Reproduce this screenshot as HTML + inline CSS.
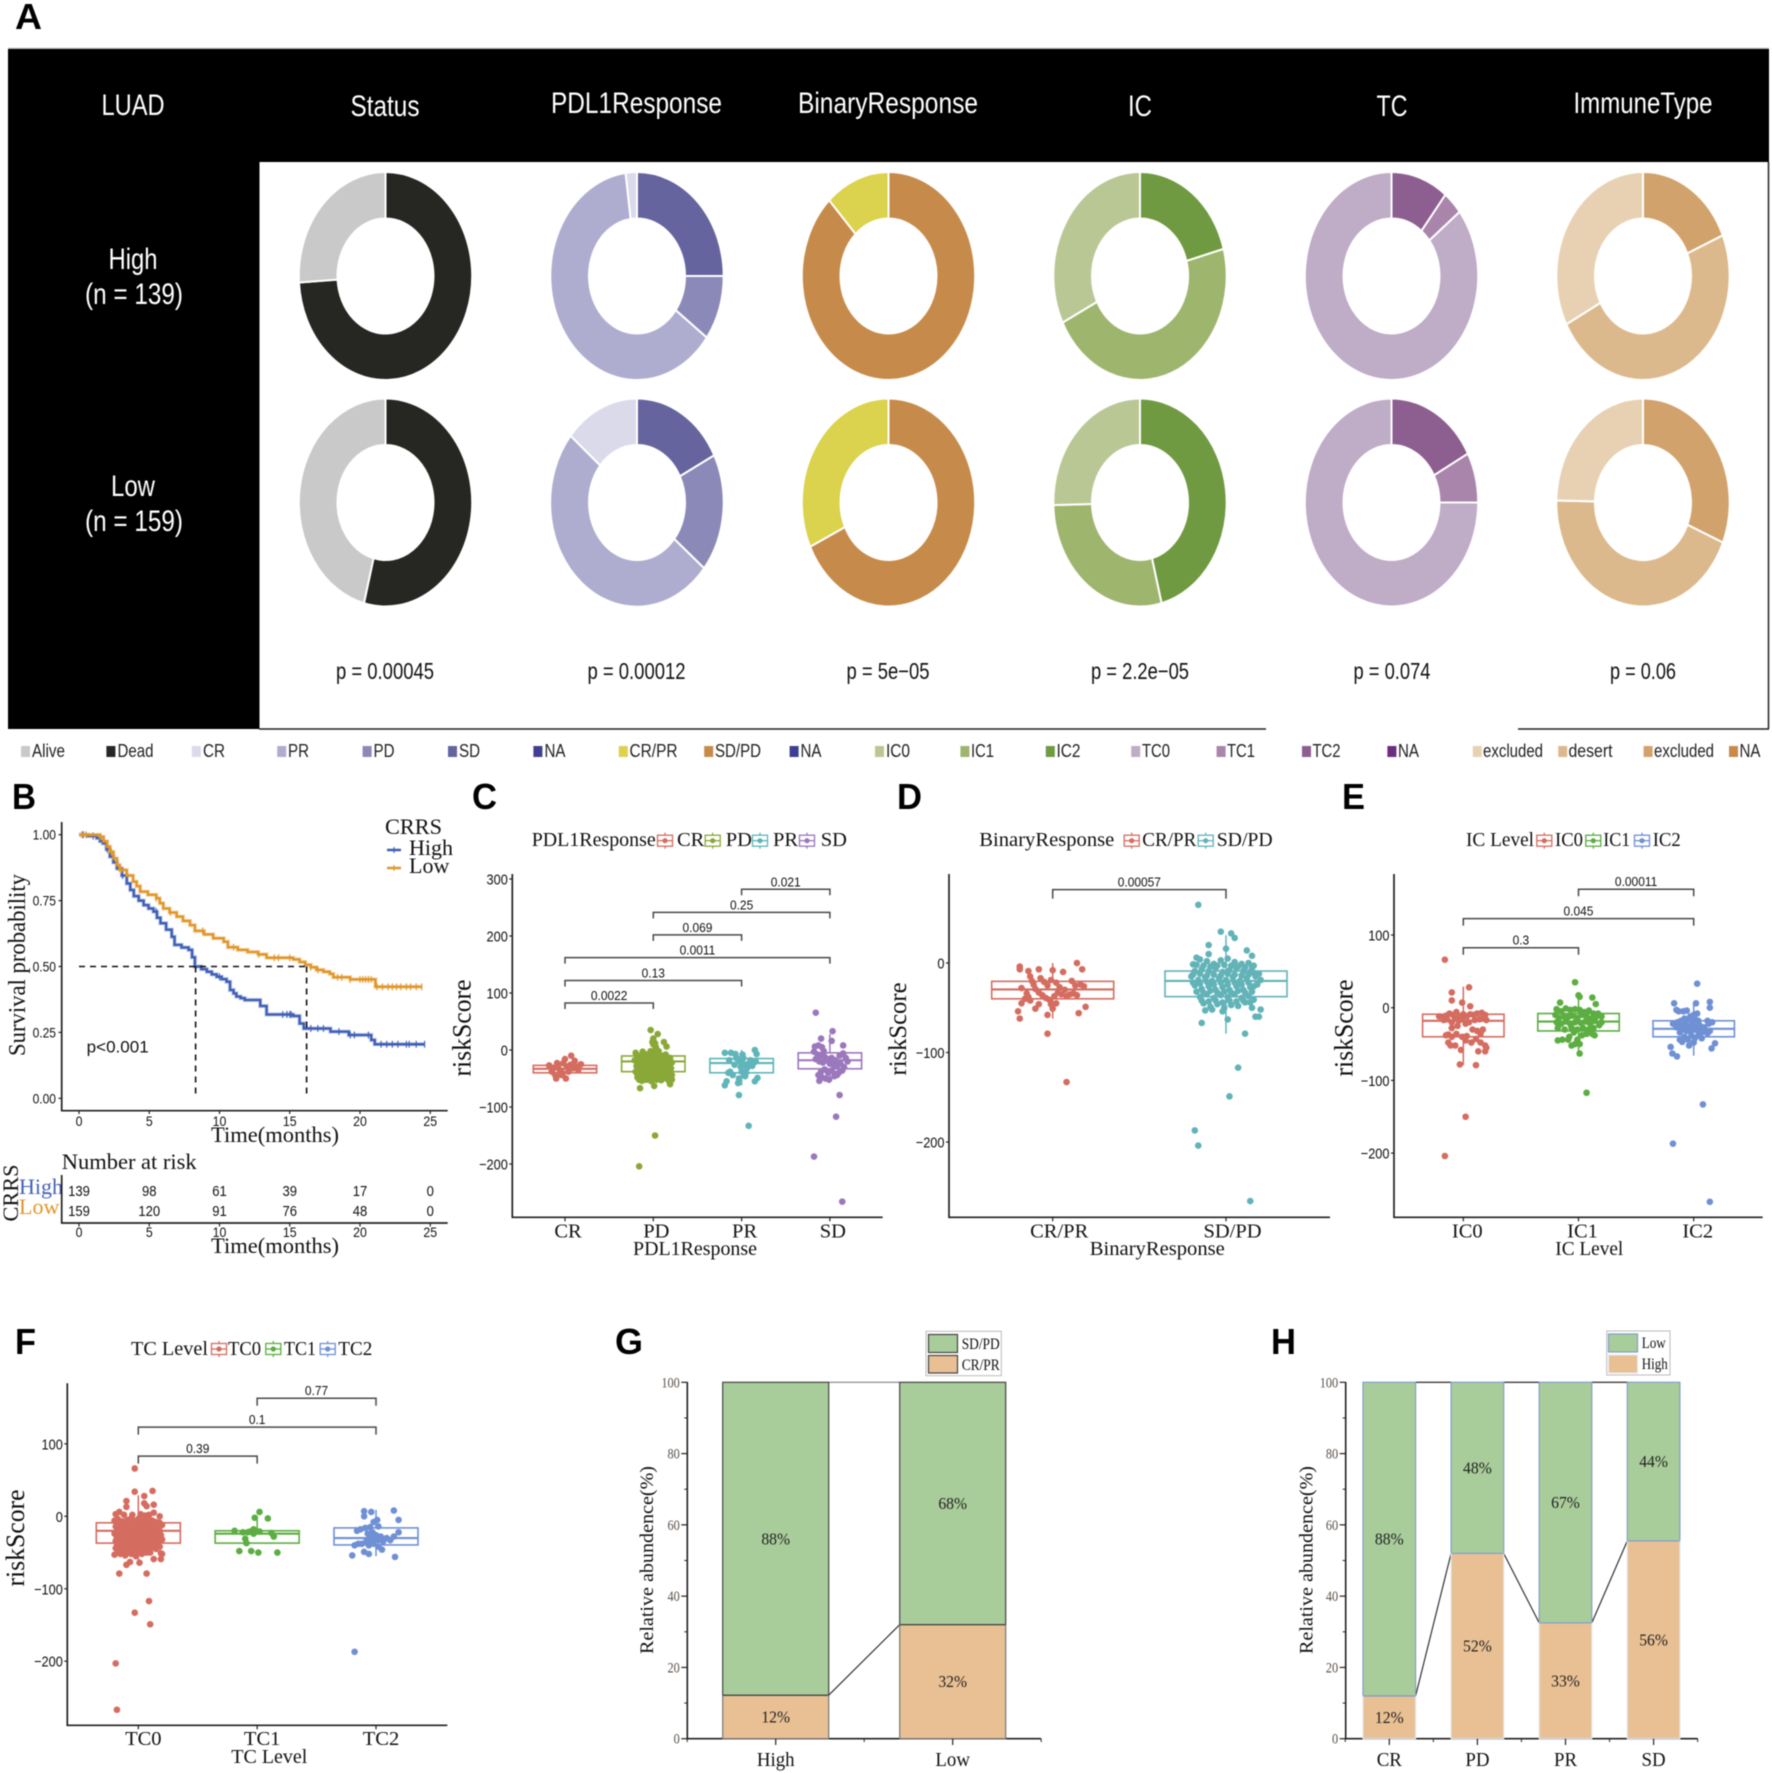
<!DOCTYPE html>
<html lang="en">
<head>
<meta charset="utf-8">
<title>LUAD risk score figure</title>
<style>
html,body{margin:0;padding:0;background:#fff}
svg{display:block;filter:blur(.45px)}
text{font-family:"Liberation Sans",sans-serif;fill:#111}
.s,.s text{font-family:"Liberation Serif",serif}
.w{fill:#fff}
.pl{font-size:36px;font-weight:bold;fill:#000}
.lg{font-size:18.5px;fill:#222}
.hd{font-size:30px;fill:#fff;text-anchor:middle}
.pv{font-size:23px;text-anchor:middle;fill:#111}
.m{text-anchor:middle}
</style>
</head>
<body>
<svg id="fig" xmlns="http://www.w3.org/2000/svg" width="1772" height="1773" viewBox="0 0 1772 1773">
<rect x="0" y="0" width="1772" height="1773" fill="#fff"/>

<text class="pl" x="15" y="29" textLength="27" lengthAdjust="spacingAndGlyphs">A</text>
<text class="pl" x="12" y="809" textLength="24" lengthAdjust="spacingAndGlyphs">B</text>
<text class="pl" x="472" y="809" textLength="25" lengthAdjust="spacingAndGlyphs">C</text>
<text class="pl" x="897" y="809" textLength="25" lengthAdjust="spacingAndGlyphs">D</text>
<text class="pl" x="1342" y="809" textLength="23" lengthAdjust="spacingAndGlyphs">E</text>
<text class="pl" x="15" y="1354" textLength="21" lengthAdjust="spacingAndGlyphs">F</text>
<text class="pl" x="615" y="1354" textLength="28" lengthAdjust="spacingAndGlyphs">G</text>
<text class="pl" x="1271" y="1354" textLength="25" lengthAdjust="spacingAndGlyphs">H</text>

<g>
<line x1="8" x2="1769" y1="48.5" y2="48.5" stroke="#b5b5b5" stroke-width="1.5"/>
<rect x="8" y="49" width="1761" height="113" fill="#000"/>
<rect x="8" y="49" width="251.5" height="680" fill="#000"/>
<line x1="259" x2="1266" y1="729" y2="729" stroke="#222" stroke-width="1.5"/>
<line x1="1518" x2="1769" y1="729" y2="729" stroke="#222" stroke-width="1.5"/>
<line x1="1768.5" x2="1768.5" y1="162" y2="729" stroke="#222" stroke-width="1.5"/>
<text class="hd" x="133" y="115" textLength="63" lengthAdjust="spacingAndGlyphs">LUAD</text>
<text class="hd" x="385" y="116" textLength="69" lengthAdjust="spacingAndGlyphs">Status</text>
<text class="hd" x="636.5" y="113" textLength="171" lengthAdjust="spacingAndGlyphs">PDL1Response</text>
<text class="hd" x="888" y="113" textLength="180" lengthAdjust="spacingAndGlyphs">BinaryResponse</text>
<text class="hd" x="1140" y="116" textLength="24" lengthAdjust="spacingAndGlyphs">IC</text>
<text class="hd" x="1392" y="116" textLength="31" lengthAdjust="spacingAndGlyphs">TC</text>
<text class="hd" x="1643" y="113" textLength="139" lengthAdjust="spacingAndGlyphs">ImmuneType</text>
<text class="hd" x="133" y="269" textLength="49" lengthAdjust="spacingAndGlyphs">High</text>
<text class="hd" x="134" y="304" textLength="98" lengthAdjust="spacingAndGlyphs">(n = 139)</text>
<text class="hd" x="133" y="496" textLength="44" lengthAdjust="spacingAndGlyphs">Low</text>
<text class="hd" x="134" y="531" textLength="98" lengthAdjust="spacingAndGlyphs">(n = 159)</text>
<text class="pv" x="385" y="679" textLength="98" lengthAdjust="spacingAndGlyphs">p = 0.00045</text>
<text class="pv" x="636.5" y="679" textLength="98" lengthAdjust="spacingAndGlyphs">p = 0.00012</text>
<text class="pv" x="888" y="679" textLength="83" lengthAdjust="spacingAndGlyphs">p = 5e−05</text>
<text class="pv" x="1140" y="679" textLength="98" lengthAdjust="spacingAndGlyphs">p = 2.2e−05</text>
<text class="pv" x="1392" y="679" textLength="77" lengthAdjust="spacingAndGlyphs">p = 0.074</text>
<text class="pv" x="1643" y="679" textLength="66" lengthAdjust="spacingAndGlyphs">p = 0.06</text>
<g id="donuts"></g>
</g>

<g>
<g><rect x="21" y="746" width="9" height="11" fill="#c9c9c9"/><text class="lg" x="32" y="757" textLength="33" lengthAdjust="spacingAndGlyphs">Alive</text></g>
<g><rect x="106.4" y="746" width="9" height="11" fill="#262622"/><text class="lg" x="117.5" y="757" textLength="36" lengthAdjust="spacingAndGlyphs">Dead</text></g>
<g><rect x="191.8" y="746" width="9" height="11" fill="#dadaeb"/><text class="lg" x="203" y="757" textLength="22" lengthAdjust="spacingAndGlyphs">CR</text></g>
<g><rect x="277.2" y="746" width="9" height="11" fill="#aeadcf"/><text class="lg" x="288" y="757" textLength="21" lengthAdjust="spacingAndGlyphs">PR</text></g>
<g><rect x="362.6" y="746" width="9" height="11" fill="#8b89b7"/><text class="lg" x="373.5" y="757" textLength="21" lengthAdjust="spacingAndGlyphs">PD</text></g>
<g><rect x="448" y="746" width="9" height="11" fill="#65649e"/><text class="lg" x="459" y="757" textLength="21" lengthAdjust="spacingAndGlyphs">SD</text></g>
<g><rect x="533.4" y="746" width="9" height="11" fill="#3f3f8f"/><text class="lg" x="544.5" y="757" textLength="21" lengthAdjust="spacingAndGlyphs">NA</text></g>
<g><rect x="618.8" y="746" width="9" height="11" fill="#dbd24d"/><text class="lg" x="629.5" y="757" textLength="48" lengthAdjust="spacingAndGlyphs">CR/PR</text></g>
<g><rect x="704.2" y="746" width="9" height="11" fill="#c68b4b"/><text class="lg" x="715" y="757" textLength="46" lengthAdjust="spacingAndGlyphs">SD/PD</text></g>
<g><rect x="789.6" y="746" width="9" height="11" fill="#3f3f8f"/><text class="lg" x="800.5" y="757" textLength="21" lengthAdjust="spacingAndGlyphs">NA</text></g>
<g><rect x="875" y="746" width="9" height="11" fill="#b9c795"/><text class="lg" x="886" y="757" textLength="24" lengthAdjust="spacingAndGlyphs">IC0</text></g>
<g><rect x="960.4" y="746" width="9" height="11" fill="#9eb56e"/><text class="lg" x="971" y="757" textLength="23" lengthAdjust="spacingAndGlyphs">IC1</text></g>
<g><rect x="1045.8" y="746" width="9" height="11" fill="#6f9a41"/><text class="lg" x="1056.5" y="757" textLength="24" lengthAdjust="spacingAndGlyphs">IC2</text></g>
<g><rect x="1131.2" y="746" width="9" height="11" fill="#bfacc6"/><text class="lg" x="1142" y="757" textLength="28" lengthAdjust="spacingAndGlyphs">TC0</text></g>
<g><rect x="1216.6" y="746" width="9" height="11" fill="#a985ab"/><text class="lg" x="1227" y="757" textLength="28" lengthAdjust="spacingAndGlyphs">TC1</text></g>
<g><rect x="1302" y="746" width="9" height="11" fill="#8d5e90"/><text class="lg" x="1312.5" y="757" textLength="28" lengthAdjust="spacingAndGlyphs">TC2</text></g>
<g><rect x="1387.4" y="746" width="9" height="11" fill="#6b2d7f"/><text class="lg" x="1398" y="757" textLength="21" lengthAdjust="spacingAndGlyphs">NA</text></g>
<g><rect x="1472.8" y="746" width="9" height="11" fill="#e8d1b3"/><text class="lg" x="1483" y="757" textLength="60" lengthAdjust="spacingAndGlyphs">excluded</text></g>
<g><rect x="1558.2" y="746" width="9" height="11" fill="#dcb98c"/><text class="lg" x="1568.5" y="757" textLength="44" lengthAdjust="spacingAndGlyphs">desert</text></g>
<g><rect x="1643.6" y="746" width="9" height="11" fill="#d1a26b"/><text class="lg" x="1654" y="757" textLength="60" lengthAdjust="spacingAndGlyphs">excluded</text></g>
<g><rect x="1729" y="746" width="9" height="11" fill="#c68b4b"/><text class="lg" x="1739.5" y="757" textLength="21" lengthAdjust="spacingAndGlyphs">NA</text></g>
</g>

<g class="s">
<text class="m" transform="translate(25,965) rotate(-90)" font-size="24" textLength="182" lengthAdjust="spacingAndGlyphs">Survival probability</text>
<text class="m" x="275" y="1142" font-size="22.5" textLength="128" lengthAdjust="spacingAndGlyphs">Time(months)</text>
<text x="385" y="834" font-size="22" textLength="57" lengthAdjust="spacingAndGlyphs">CRRS</text>
<text x="409" y="855" font-size="22">High</text>
<text x="409" y="873" font-size="22">Low</text>
<text x="61.7" y="1169" font-size="22.5" textLength="135" lengthAdjust="spacingAndGlyphs">Number at risk</text>
<text class="m" transform="translate(18,1193) rotate(-90)" font-size="22" textLength="57" lengthAdjust="spacingAndGlyphs">CRRS</text>
<text x="19" y="1194" font-size="22" style="fill:#4463b8">High</text>
<text x="19" y="1214" font-size="22" style="fill:#e0962a">Low</text>
<text class="m" x="275" y="1253" font-size="22.5" textLength="128" lengthAdjust="spacingAndGlyphs">Time(months)</text>
</g>
<text x="86.7" y="1052.7" font-size="17" textLength="62" lengthAdjust="spacingAndGlyphs">p&lt;0.001</text>

<g class="s" font-size="20.5">
<text x="531.7" y="846" textLength="124" lengthAdjust="spacingAndGlyphs">PDL1Response</text>
<text x="677" y="846">CR</text>
<text x="725.7" y="846">PD</text>
<text x="773" y="846">PR</text>
<text x="820.7" y="846">SD</text>
<text class="m" x="695" y="1255" textLength="124" lengthAdjust="spacingAndGlyphs">PDL1Response</text>
<text class="m" transform="translate(470.7,1028) rotate(-90)" font-size="26" textLength="97" lengthAdjust="spacingAndGlyphs">riskScore</text>
</g>
<g class="s" font-size="20.5">
<text x="979.3" y="846" textLength="135" lengthAdjust="spacingAndGlyphs">BinaryResponse</text>
<text x="1142.3" y="846" textLength="54" lengthAdjust="spacingAndGlyphs">CR/PR</text>
<text x="1216.7" y="846" textLength="56" lengthAdjust="spacingAndGlyphs">SD/PD</text>
<text class="m" x="1157.3" y="1255" textLength="135" lengthAdjust="spacingAndGlyphs">BinaryResponse</text>
<text class="m" transform="translate(906,1029) rotate(-90)" font-size="25" textLength="93" lengthAdjust="spacingAndGlyphs">riskScore</text>
</g>
<g class="s" font-size="20.5">
<text x="1466" y="846" textLength="68" lengthAdjust="spacingAndGlyphs">IC Level</text>
<text x="1555" y="846" textLength="28" lengthAdjust="spacingAndGlyphs">IC0</text>
<text x="1603.3" y="846" textLength="27" lengthAdjust="spacingAndGlyphs">IC1</text>
<text x="1652.7" y="846" textLength="28" lengthAdjust="spacingAndGlyphs">IC2</text>
<text class="m" x="1589.3" y="1255" textLength="68" lengthAdjust="spacingAndGlyphs">IC Level</text>
<text class="m" transform="translate(1352.7,1028) rotate(-90)" font-size="26" textLength="97" lengthAdjust="spacingAndGlyphs">riskScore</text>
</g>
<g class="s" font-size="20.5">
<text x="131" y="1355" textLength="77" lengthAdjust="spacingAndGlyphs">TC Level</text>
<text x="228" y="1355" textLength="33" lengthAdjust="spacingAndGlyphs">TC0</text>
<text x="284" y="1355" textLength="32" lengthAdjust="spacingAndGlyphs">TC1</text>
<text x="338.3" y="1355" textLength="34" lengthAdjust="spacingAndGlyphs">TC2</text>
<text class="m" x="269.3" y="1763" textLength="76" lengthAdjust="spacingAndGlyphs">TC Level</text>
<text class="m" transform="translate(24,1538) rotate(-90)" font-size="26" textLength="97" lengthAdjust="spacingAndGlyphs">riskScore</text>
</g>

<g class="s">
<text class="m" transform="translate(653,1560) rotate(-90)" font-size="19" textLength="188" lengthAdjust="spacingAndGlyphs">Relative abundence(%)</text>
<rect x="926" y="1331.3" width="75.3" height="44.4" fill="#fff" stroke="#bbb" stroke-width="1"/>
<rect x="928.5" y="1334.5" width="29" height="18" fill="#a9cd9a" stroke="#444" stroke-width="1.2"/>
<rect x="928.5" y="1355.5" width="29" height="17.5" fill="#e9c093" stroke="#444" stroke-width="1.2"/>
<text x="961.7" y="1349" font-size="16" textLength="38" lengthAdjust="spacingAndGlyphs">SD/PD</text>
<text x="961.7" y="1370" font-size="16" textLength="38" lengthAdjust="spacingAndGlyphs">CR/PR</text>
</g>
<g class="s">
<text class="m" transform="translate(1312.3,1560) rotate(-90)" font-size="19" textLength="188" lengthAdjust="spacingAndGlyphs">Relative abundence(%)</text>
<rect x="1606.7" y="1331" width="63.3" height="44" fill="#fff" stroke="#bbb" stroke-width="1"/>
<rect x="1608.5" y="1334" width="29" height="18" fill="#a9cd9a" stroke="#7f9fc8" stroke-width="1.2"/>
<rect x="1608.5" y="1355" width="29" height="18" fill="#e9c093" stroke="#e4e9f0" stroke-width="1"/>
<text x="1641.7" y="1348" font-size="16" textLength="24" lengthAdjust="spacingAndGlyphs">Low</text>
<text x="1641.7" y="1369" font-size="16" textLength="26" lengthAdjust="spacingAndGlyphs">High</text>
</g>
<g id="plots"></g>
</svg>

<script>
/* ---------- Panel A: donut data (fraction of each group) ---------- */
const statusHigh=[0.74,0.26];
const statusLow=[0.54,0.46];
const pdl1High=[0.25,0.101,0.628,0.021];
const pdl1Low=[0.175,0.184,0.502,0.139];
const binaryHigh=[0.88,0.12];
const binaryLow=[0.68,0.32];
const icHigh=[0.208,0.468,0.324];
const icLow=[0.46,0.286,0.254];
const tcHigh=[0.107,0.037,0.856];
const tcLow=[0.172,0.078,0.75];
const immuneHigh=[0.186,0.487,0.327];
const immuneLow=[0.313,0.44,0.247];

/* ---------- Panel B: Kaplan-Meier data ---------- */
const kmXTicks=[0,5,10,15,20,25];
const kmYTicks=[0,0.25,0.5,0.75,1];
const kmYLabels=['0.00','0.25','0.50','0.75','1.00'];
const highTime=[0,.6,1.26,1.5,1.7,1.95,2.2,2.45,2.7,3.05,3.4,3.65,3.9,4.25,4.6,4.95,5.3,5.55,5.8,6.2,6.6,6.8,7.3,7.8,8.05,8.25,8.7,9.1,9.45,9.8,10.15,10.5,10.75,11,11.2,11.5,11.8,12.9,13.35,15.25,15.7,16,17.9,19.2,20.8,21.05,24.6];
const highSurv=[1,.995,.987,.975,.967,.945,.917,.895,.872,.845,.815,.79,.767,.75,.733,.72,.708,.685,.664,.64,.613,.582,.572,.563,.535,.5,.49,.48,.47,.461,.452,.442,.411,.398,.386,.38,.373,.35,.318,.312,.284,.265,.253,.24,.221,.205,.205];
const lowTime=[0,1.5,1.75,2,2.2,2.45,2.7,2.9,3.4,3.85,4.1,4.35,4.9,5.5,5.75,6,6.45,6.95,7.4,7.9,8.25,8.9,9.55,10.3,10.6,11.3,12,12.75,13.35,15.25,15.7,16.1,16.5,16.9,17.4,17.85,18.1,19.3,21.1,24.4];
const lowSurv=[1,.992,.975,.955,.935,.91,.885,.866,.845,.822,.805,.784,.772,.759,.74,.72,.705,.689,.673,.657,.635,.622,.607,.594,.573,.563,.555,.546,.533,.527,.517,.506,.497,.487,.48,.472,.459,.451,.423,.423];
const highCensor=[0.3,1,2,3.1,5.5,10,14.5,14.8,15,15.1,16.5,17,17.4,18.5,19.3,19.6,20.6,21.5,21.9,22.3,22.7,23.3,23.5,24,24.6];
const lowCensor=[0.2,0.5,1.5,2.3,3,5.5,6.5,8.8,11,12.8,13.9,14.2,15,16.5,17,18.4,18.7,19.3,20,20.2,20.4,20.6,20.8,21.2,21.6,22,22.3,22.6,22.9,23.3,23.6,24,24.4];
const medianHigh=8.3;
const medianLow=16.2;
const riskTimes=[0,5,10,15,20,25];
const riskHigh=[139,98,61,39,17,0];
const riskLow=[159,120,91,76,48,0];

/* ---------- Panel C: riskScore by PDL1Response ---------- */
const cCats=['CR','PD','PR','SD'];
const cTicks=[300,200,100,0,-100,-200];
const cQ1=[-40,-38,-40,-33];
const cMedian=[-33,-20,-23,-18];
const cQ3=[-27,-10.5,-15,-5];
const cWhiskLow=[-50,-65,-62,-55];
const cWhiskHigh=[-10,22,0,28];
const cBracketFrom=[0,0,0,1,1,2];
const cBracketTo=[1,2,3,2,3,3];
const cBracketValue=[82.5,122,162,202,241.5,282];
const cBracketLabels=['0.0022','0.13','0.0011','0.069','0.25','0.021'];
/* each point: [jitter in category units, riskScore] */
const cPointsCR=[[.07,-10],[-.09,-23],[-.18,-27],[0,-16],[.11,-19],[.18,-25],[-.1,-50],[.01,-50],[-.15,-38],[-.06,-35],[.02,-29],[.09,-32],[.15,-35],[-.04,-44],[.04,-38],[-.13,-32],[-.08,-29],[-.02,-23],[.06,-26],[-.11,-44],[.12,-28],[-.03,-40]];
const cPointsPD=[[.02,-150],[-.16,-204],[-.03,35],[.05,28],[.12,14],[.15,6],[-.15,-67],[.01,-63],[.19,-60],[.21,-52],[0,20],[0,10],[-.2,-5],[-.17,-12],[-.12,-3],[-.08,-8],[-.03,-2],[.02,0],[.06,-6],[.1,-10],[.14,-8],[.19,-14],[.21,-22],[-.21,-18],[-.19,-28],[-.15,-20],[-.11,-15],[-.07,-22],[-.02,-12],[.03,-15],[.07,-20],[.12,-18],[.17,-26],[.2,-32],[-.2,-38],[-.16,-33],[-.12,-28],[-.08,-35],[-.04,-26],[.01,-30],[.05,-27],[.09,-33],[.13,-29],[.16,-40],[.21,-44],[-.18,-48],[-.14,-42],[-.1,-46],[-.06,-40],[-.01,-44],[.03,-38],[.07,-45],[.11,-41],[.15,-50],[-.13,-54],[-.07,-52],[-.02,-55],[.04,-52],[.09,-53],[.18,-55],[-.05,-14],[0,-20],[.04,-22],[-.1,-24],[.09,-24],[-.14,-10],[.01,-37],[-.04,-34],[-.18,-10],[-.13,-15],[-.09,-18],[-.05,-8],[-.01,-6],[.04,-8],[.08,-13],[.12,-12],[.16,-17],[-.17,-24],[-.13,-24],[-.09,-28],[-.06,-30],[-.01,-26],[.03,-24],[.07,-30],[.11,-27],[.15,-32],[.19,-38],[-.18,-42],[-.14,-35],[-.1,-38],[-.05,-46],[0,-50],[.05,-34],[.09,-46],[.13,-36],[.17,-47],[-.16,-52],[-.1,-52],[-.04,-50],[.07,-50],[.02,-10],[-.02,-34],[.04,-44],[0,-3],[.03,5],[-.01,14],[.02,12],[.06,-2]];
const cPointsPR=[[-.03,-79],[.08,-133],[-.19,-5],[-.07,-7],[.15,0],[.17,-7],[-.17,-55],[-.19,-62],[-.13,-38],[-.04,-58],[.15,-55],[.18,-49],[-.03,-50],[-.12,-5],[-.06,-14],[.01,-8],[-.02,-20],[.03,-25],[.1,-18],[.13,-24],[.06,-32],[-.08,-26],[-.15,-40],[0,-38],[.05,-40],[-.1,-44],[.12,-28],[-.01,-30],[.08,-24],[-.04,-16],[.02,-14],[-.14,-18],[.16,-20],[.04,-46]];
const cPointsSD=[[-.16,65.5],[.03,33],[-.1,20],[.02,16],[.15,8],[.11,-79],[.07,-117],[-.18,-187],[.14,-266],[-.17,6],[-.13,8],[-.09,5],[-.07,-2],[-.18,-3],[-.14,-8],[-.1,-10],[-.06,-12],[-.02,-16],[.02,-14],[.06,-18],[.11,-10],[.15,-6],[.18,-14],[.2,-20],[-.16,-16],[-.12,-20],[-.08,-22],[-.04,-18],[0,-24],[.04,-26],[.08,-28],[.12,-24],[.16,-30],[-.13,-44],[-.1,-38],[-.06,-34],[-.02,-40],[.02,-36],[.06,-42],[.1,-40],[.14,-36],[-.12,-54],[-.05,-50],[-.01,-52],[.05,-46],[.08,-44],[-.09,-48]];

/* ---------- Panel D: riskScore by BinaryResponse ---------- */
const dCats=['CR/PR','SD/PD'];
const dTicks=[0,-100,-200];
const dQ1=[-40,-37.6];
const dMedian=[-29.5,-20];
const dQ3=[-20.5,-9];
const dWhiskLow=[-62,-79];
const dWhiskHigh=[0,31];
const dBracketFrom=[0];
const dBracketTo=[1];
const dBracketValue=[82];
const dBracketLabels=['0.00057'];
const dPointsCRPR=[[.08,-133],[-.03,-79],[.14,0],[.17,-7],[-.19,-4],[-.19,-7],[-.14,-9],[-.08,-7],[0,-8],[.06,-10],[-.2,-54],[-.19,-62],[-.03,-58],[.15,-56],[.19,-49],[-.1,-51],[0,-51],[-.08,-46],[-.18,-45],[-.13,-15],[-.12,-20],[-.11,-24],[-.07,-17],[-.05,-21],[-.03,-25],[-.01,-19],[.02,-22],[.04,-27],[.07,-30],[.11,-20],[.13,-25],[.16,-24],[.18,-26],[-.18,-28],[-.15,-34],[-.14,-38],[-.13,-42],[-.1,-29],[-.08,-33],[-.06,-36],[-.04,-39],[-.02,-41],[.01,-37],[.03,-33],[.05,-35],[.08,-37],[.1,-35],[.12,-34],[.14,-36],[-.01,-46],[-.16,-40],[.02,-45]];
const dPointsSDPD=[[-.16,65],[-.03,35],[.03,33],[.05,28],[-.1,20],[.12,14],[-.1,10],[0,16],[.15,8],[-.17,6],[-.19,-1.5],[.11,-79],[-.14,-67],[.07,-117],[.02,-149],[-.18,-187],[-.16,-204],[.14,-266],[.17,-60],[.19,-60],[.2,-52],[.01,-63],[-.15,4],[-.11,2],[-.07,-1],[-.03,3],[.01,5],[.05,1],[.09,-1],[.13,0],[.16,-3],[-.18,-9],[-.14,-7],[-.1,-9],[-.06,-6],[-.02,-10],[.02,-8],[.06,-6],[.1,-9],[.14,-10],[.19,-12],[-.2,-15],[-.16,-19],[-.12,-16],[-.08,-20],[-.04,-17],[0,-19],[.04,-16],[.08,-20],[.12,-17],[.17,-15],[.2,-19],[-.18,-25],[-.14,-29],[-.1,-26],[-.06,-30],[-.02,-27],[.02,-30],[.06,-26],[.1,-30],[.14,-27],[.18,-24],[-.15,-38],[-.11,-35],[-.07,-39],[-.03,-36],[.01,-38],[.05,-35],[.09,-39],[.13,-37],[.16,-41],[-.13,-45],[-.09,-49],[-.05,-46],[-.01,-50],[.03,-47],[.07,-48],[.11,-44],[.15,-50],[-.12,-53],[-.02,-54],[-.08,-52],[-.17,-2],[-.13,-3],[-.09,-4],[-.05,-3],[-.01,-2],[.03,-3],[.07,-4],[.11,-5],[.15,-5],[-.19,-13],[-.15,-12],[-.11,-14],[-.07,-13],[-.03,-14],[.01,-12],[.05,-13],[.09,-14],[.13,-13],[.16,-11],[-.19,-22],[-.15,-23],[-.11,-21],[-.07,-24],[-.03,-22],[.01,-24],[.05,-22],[.09,-24],[.13,-22],[.16,-26],[-.17,-32],[-.13,-33],[-.09,-31],[-.05,-33],[-.01,-32],[.03,-33],[.07,-31],[.11,-33],[.15,-32],[-.14,-42],[-.1,-43],[-.06,-42],[-.02,-44],[.02,-42],[.06,-43],[.1,-42],[.14,-44]];

/* ---------- Panel E: riskScore by IC level ---------- */
const eCats=['IC0','IC1','IC2'];
const eTicks=[100,0,-100,-200];
const eQ1=[-40,-32,-40];
const eMedian=[-18,-19,-29];
const eQ3=[-9,-8,-18];
const eWhiskLow=[-79,-63,-66];
const eWhiskHigh=[29,20,6];
const eBracketFrom=[0,0,1];
const eBracketTo=[1,2,2];
const eBracketValue=[82.5,122.5,163];
const eBracketLabels=['0.3','0.045','0.00011'];
const ePointsIC0=[[-.16,66],[.05,28],[-.16,-204],[.02,-150],[-.03,-78],[.11,-79],[-.1,21],[-.1,10],[-.01,7],[.06,2],[-.21,-12],[-.18,-13],[-.15,-11],[-.12,-8],[-.09,-10],[-.06,-6],[-.03,-12],[0,-9],[.03,-12],[.06,-9],[.09,-10],[.12,-8],[.16,-7],[.19,-10],[.2,-17],[-.17,-17],[-.14,-16],[-.1,-20],[-.07,-15],[-.04,-18],[-.01,-16],[.02,-22],[.05,-20],[.1,-17],[.14,-16],[.17,-14],[-.1,-28],[-.05,-25],[-.15,-38],[-.13,-37],[-.1,-40],[-.06,-36],[-.01,-40],[.03,-39],[.08,-30],[.12,-32],[.15,-36],[.17,-30],[-.13,-48],[-.11,-52],[-.07,-52],[-.02,-58],[.02,-45],[.07,-48],[.11,-43],[.15,-48],[.19,-52],[.13,-60],[.19,-60],[.2,-55]];
const ePointsIC1=[[-.03,35],[.07,-117],[.01,-63],[-.16,7],[0,17],[.01,15],[.12,14],[.15,5],[-.19,-2],[-.15,-5],[-.11,-1],[-.07,-3],[-.03,-2],[.01,-3],[.05,-6],[.09,-4],[.13,-8],[.17,-8],[.2,-12],[-.2,-10],[-.17,-14],[-.13,-12],[-.09,-13],[-.05,-11],[-.01,-14],[.03,-10],[.07,-12],[.11,-15],[.15,-13],[.2,-20],[-.19,-20],[-.15,-22],[-.11,-19],[-.07,-23],[-.03,-20],[.02,-21],[.06,-19],[.1,-22],[.14,-18],[.18,-24],[-.18,-28],[-.12,-30],[-.06,-28],[-.01,-30],[.04,-28],[.09,-30],[.13,-28],[-.18,-45],[-.14,-44],[-.08,-40],[-.04,-34],[-.01,-44],[.03,-38],[.07,-36],[.12,-36],[-.06,-52],[-.03,-50],[.01,-50],[-.09,-44],[.14,-38]];
const ePointsIC2=[[.03,33],[.08,-133],[-.18,-187],[.14,-267],[-.17,6],[.02,6],[.14,8],[.14,0],[-.2,-54],[-.185,-63],[-.145,-67],[.185,-49],[.155,-56],[-.15,-3],[-.13,-5],[-.09,-5],[-.06,-4],[-.03,-12],[0,-10],[.03,-8],[-.18,-22],[-.14,-20],[-.11,-18],[-.08,-15],[-.05,-16],[-.02,-14],[.01,-16],[.04,-18],[.12,-18],[.16,-20],[-.15,-27],[-.11,-25],[-.07,-23],[-.04,-25],[-.01,-22],[.02,-26],[.05,-24],[.09,-27],[.13,-22],[-.12,-34],[-.09,-30],[-.06,-32],[-.03,-33],[0,-30],[.03,-31],[.06,-34],[.09,-33],[.12,-35],[.14,-32],[-.12,-44],[-.08,-40],[-.05,-44],[-.02,-38],[.01,-42],[.04,-38],[.07,-42],[-.1,-47],[-.04,-52],[0,-48]];

/* ---------- Panel F: riskScore by TC level ---------- */
const fCats=['TC0','TC1','TC2'];
const fTicks=[100,0,-100,-200];
const fQ1=[-37,-37,-39.5];
const fMedian=[-20,-24,-30];
const fQ3=[-9,-20,-16];
const fWhiskLow=[-65,-37,-55];
const fWhiskHigh=[29,0,9];
const fBracketFrom=[0,0,1];
const fBracketTo=[1,2,2];
const fBracketValue=[83,123,163];
const fBracketLabels=['0.39','0.1','0.77'];
const fPointsTC0=[[-.03,66],[-.03,34],[.05,28],[.12,35],[-.1,21],[-.1,13],[.13,16],[.05,18],[.07,14],[-.16,-79],[.07,-79],[.09,-117],[-.03,-133],[.1,-149],[-.19,-203],[-.18,-267],[-.1,-67],[-.07,-63],[.01,-64],[.13,-59],[.19,-59],[.2,-52],[-.19,3],[-.16,6],[-.12,2],[.06,1],[.13,5],[.18,0],[-.2,-6],[-.17,-4],[-.13,-7],[-.09,-5],[-.06,-3],[-.03,-6],[0,-4],[.03,-7],[.06,-5],[.09,-3],[.12,-6],[.15,-8],[.18,-9],[-.19,-14],[-.16,-16],[-.13,-13],[-.1,-15],[-.07,-14],[-.04,-16],[-.01,-13],[.02,-15],[.05,-14],[.08,-16],[.11,-13],[.14,-15],[.17,-14],[.2,-12],[-.2,-24],[-.17,-26],[-.14,-23],[-.11,-25],[-.08,-24],[-.05,-26],[-.02,-23],[.01,-25],[.04,-24],[.07,-26],[.1,-23],[.13,-25],[.16,-24],[.19,-26],[-.19,-34],[-.16,-36],[-.13,-33],[-.1,-35],[-.07,-34],[-.04,-36],[-.01,-33],[.02,-35],[.05,-34],[.08,-36],[.11,-33],[.14,-35],[.17,-34],[.2,-32],[-.19,-44],[-.16,-46],[-.13,-43],[-.1,-45],[-.07,-44],[-.04,-46],[-.01,-43],[.02,-45],[.05,-44],[.08,-46],[.12,-43],[.15,-45],[.18,-42],[-.2,-53],[-.15,-52],[-.11,-54],[-.06,-52],[-.02,-55],[.03,-52],[.07,-50],[.19,-51],[-.18,-10],[-.14,-9],[-.1,-10],[-.07,-9],[-.02,-10],[.01,-9],[.04,-10],[.07,-11],[.1,-9],[.13,-10],[.16,-11],[-.18,-20],[-.15,-19],[-.12,-20],[-.08,-19],[-.05,-21],[-.02,-18],[.01,-20],[.03,-19],[.06,-21],[.09,-19],[.12,-20],[.15,-19],[.18,-20],[-.18,-30],[-.15,-29],[-.12,-30],[-.09,-29],[-.06,-31],[-.03,-29],[0,-30],[.03,-29],[.06,-31],[.09,-29],[.12,-30],[.15,-29],[.18,-30],[-.18,-40],[-.15,-39],[-.12,-40],[-.09,-39],[-.06,-41],[-.03,-39],[0,-40],[.03,-39],[.06,-41],[.1,-39],[.13,-40],[.16,-39],[-.17,-50],[-.13,-49],[-.09,-50],[-.04,-50],[0,-49],[.04,-49],[.1,-50],[.01,-2],[-.05,2],[.02,3],[.09,2]];
const fPointsTC1=[[.02,6],[.09,-3],[-.02,-2],[-.15,-48],[-.05,-48],[.01,-50],[.17,-50],[-.09,-37],[-.1,-31],[-.19,-20],[-.12,-22],[-.06,-21],[-.03,-18],[-.03,-24],[.02,-21],[.12,-23],[.14,-28],[-.08,-22]];
const fPointsTC2=[[-.1,7],[-.04,6],[.15,8],[.19,-5],[-.1,0],[.01,-5],[-.02,-8],[.02,-14],[.19,-22],[-.2,-54],[-.06,-52],[.16,-56],[.05,-46],[-.1,-49],[-.18,-187],[-.16,-20],[-.13,-18],[-.09,-16],[-.05,-15],[-.15,-38],[-.18,-40],[-.12,-38],[-.08,-34],[-.05,-28],[-.03,-35],[-.01,-30],[.02,-33],[.04,-28],[.06,-35],[.09,-30],[.12,-33],[.15,-28],[-.06,-40],[-.02,-38],[.02,-42],[-.07,-24],[-.03,-22],[0,-26]];

/* ---------- Panels G, H: stacked bars ---------- */
const gCats=['High','Low'];
const gLower=[12.2,32];
const gUpper=[87.8,68];
const gLowerLabels=['12%','32%'];
const gUpperLabels=['88%','68%'];
const hCats=['CR','PD','PR','SD'];
const hLower=[12,52,32.5,55.5];
const hUpper=[88,48,67.5,44.5];
const hLowerLabels=['12%','52%','33%','56%'];
const hUpperLabels=['88%','48%','67%','44%'];
const barTicks=[0,20,40,60,80,100];
const barMinorTicks=[10,30,50,70,90];

/* ---------- helpers ---------- */
const NS=document.getElementById('fig').namespaceURI;
const plots=document.getElementById('plots');
function mk(parent,tag,attrs){
  const n=document.createElementNS(NS,tag);
  for(const k in attrs){n.setAttribute(k,attrs[k]);}
  parent.appendChild(n);
  return n;
}
function group(parent,name){
  const g=mk(parent,'g',{});
  
  
  return g;
}
function seg(parent,name,x1,y1,x2,y2,stroke,width,extra){
  const l=mk(parent,'line',Object.assign({x1:x1,y1:y1,x2:x2,y2:y2,stroke:stroke,'stroke-width':width},extra||{}));
  
  
  return l;
}
function label(parent,name,str,x,y,size,anchor,serif,squeeze,fill){
  const t=mk(parent,'text',{x:x,y:y,'font-size':size,'text-anchor':anchor});
  t.textContent=str;
  
  
  if(serif){t.setAttribute('style','font-family:"Liberation Serif",serif'+(fill?';fill:'+fill:''));}
  else if(fill){t.setAttribute('style','fill:'+fill);}
  if(squeeze){
    t.setAttribute('textLength',(t.getComputedTextLength()*squeeze).toFixed(2));
    t.setAttribute('lengthAdjust','spacingAndGlyphs');
  }
  return t;
}
const fmt=v=>String(v).replace('-','\u2212');

/* ---------- Panel A ---------- */
const donutCols=[
 {key:'status',high:statusHigh,low:statusLow,colors:['#262622','#c9c9c9']},
 {key:'pdl1response',high:pdl1High,low:pdl1Low,colors:['#65649e','#8b89b7','#aeadcf','#dadaeb']},
 {key:'binaryresponse',high:binaryHigh,low:binaryLow,colors:['#c68b4b','#dbd24d']},
 {key:'ic',high:icHigh,low:icLow,colors:['#6f9a41','#9eb56e','#b9c795']},
 {key:'tc',high:tcHigh,low:tcLow,colors:['#8d5e90','#a985ab','#bfacc6']},
 {key:'immunetype',high:immuneHigh,low:immuneLow,colors:['#d1a26b','#dcb98c','#e8d1b3']}
];
function drawDonut(parent,name,fracs,colors,cx,cy){
  const rx=86.7,ry=104,ix=48,iy=57.5;
  const g=group(parent,name);
  let a=0;
  fracs.forEach((f,i)=>{
    const b=a+f*2*Math.PI,big=f>0.5?1:0;
    const p=(t,x,y)=>(cx+x*Math.sin(t)).toFixed(2)+' '+(cy-y*Math.cos(t)).toFixed(2);
    const d='M'+p(a,rx,ry)+'A'+rx+' '+ry+' 0 '+big+' 1 '+p(b,rx,ry)+'L'+p(b,ix,iy)+'A'+ix+' '+iy+' 0 '+big+' 0 '+p(a,ix,iy)+'Z';
    const s=mk(g,'path',{d:d,fill:colors[i],stroke:'#fff','stroke-width':2});
    
    
    a=b;
  });
}
const donutHost=document.getElementById('donuts');
donutCols.forEach((c,i)=>{
  const cx=385.5+251.5*i;
  drawDonut(donutHost,'donut-'+c.key+'-high',c.high,c.colors,cx,276);
  drawDonut(donutHost,'donut-'+c.key+'-low',c.low,c.colors,cx,502.5);
});

/* ---------- Panel B ---------- */
(function(){
  const g=group(plots,'panel-b-survival');
  const X=t=>79+t*14.05;
  const Y=s=>1098.3-s*263.6;
  seg(g,'km-y-axis',61.7,822,61.7,1111,'#222',1.7);
  seg(g,'km-x-axis',61,1110.7,447.7,1110.7,'#222',1.7);
  kmYTicks.forEach((v,i)=>{
    seg(g,'km-y-tick',58.5,Y(v),61.7,Y(v),'#222',1.2);
    label(g,'km-y-tick-label',kmYLabels[i],56,Y(v)+5,14,'end',false,.86);
  });
  kmXTicks.forEach(v=>{
    seg(g,'km-x-tick',X(v),1111,X(v),1114,'#222',1.2);
    label(g,'km-x-tick-label',String(v),X(v),1126,14,'middle',false,.88);
  });
  [[highTime,highSurv,'#3f5fb5','high',highCensor],[lowTime,lowSurv,'#e0962a','low',lowCensor]].forEach(r=>{
    const ts=r[0],ss=r[1];
    let d='M'+X(ts[0]).toFixed(2)+' '+Y(ss[0]).toFixed(2);
    for(let i=1;i<ts.length;i++){
      d+='H'+X(ts[i]).toFixed(2)+'V'+Y(ss[i]).toFixed(2);
    }
    const halo=mk(g,'path',{d:d,fill:'none',stroke:r[2],'stroke-width':4.5,'stroke-opacity':.22});
    
    
    const line=mk(g,'path',{d:d,fill:'none',stroke:r[2],'stroke-width':2.5});
    
    
    const at=t=>{let s=ss[0];for(let i=0;i<ts.length;i++){if(ts[i]<=t){s=ss[i];}}return s;};
    r[4].forEach(t=>{
      seg(g,'km-censor-'+r[3],X(t),Y(at(t))-3.5,X(t),Y(at(t))+3.5,r[2],1.1);
    });
  });
  const dash={'stroke-dasharray':'6 5'};
  seg(g,'km-median-horizontal',X(0),Y(.5),X(medianLow),Y(.5),'#111',1.6,dash);
  seg(g,'km-median-vertical-high',X(medianHigh),Y(.5),X(medianHigh),Y(0),'#111',1.6,dash);
  seg(g,'km-median-vertical-low',X(medianLow),Y(.5),X(medianLow),Y(0),'#111',1.6,dash);
  seg(g,'km-legend-line-high',387,850,401,850,'#3f5fb5',2.5);
  seg(g,'km-legend-mark-high',394,847,394,853,'#3f5fb5',1.1);
  seg(g,'km-legend-line-low',387,868,401,868,'#e0962a',2.5);
  seg(g,'km-legend-mark-low',394,865,394,871,'#e0962a',1.1);
  seg(g,'risk-y-axis',61.7,1175,61.7,1223.5,'#222',1.7);
  seg(g,'risk-x-axis',61,1223,447.7,1223,'#222',1.7);
  riskTimes.forEach((t,i)=>{
    seg(g,'risk-x-tick',X(t),1223.5,X(t),1226.5,'#222',1.2);
    label(g,'risk-x-tick-label',String(t),X(t),1237,14,'middle',false,.88);
    label(g,'risk-count-high',String(riskHigh[i]),X(t),1196,14.5,'middle',false,.9);
    label(g,'risk-count-low',String(riskLow[i]),X(t),1216,14.5,'middle',false,.9);
  });
})();

/* ---------- Panels C, D, E, F ---------- */
function drawBoxPanel(cfg){
  const g=group(plots,cfg.name);
  const Y=v=>cfg.y0-v*cfg.k;
  const X=i=>cfg.x0+i*cfg.dx;
  seg(g,cfg.id+'-y-axis',cfg.axisX,cfg.top,cfg.axisX,cfg.bottom+.8,'#222',1.7);
  seg(g,cfg.id+'-x-axis',cfg.axisX,cfg.bottom,cfg.right,cfg.bottom,'#222',1.7);
  cfg.ticks.forEach(v=>{
    seg(g,cfg.id+'-y-tick',cfg.axisX-3,Y(v),cfg.axisX,Y(v),'#222',1.2);
    label(g,cfg.id+'-y-tick-label',fmt(v),cfg.axisX-4.5,Y(v)+5.5,15,'end',false,.85);
  });
  cfg.cats.forEach((c,i)=>{
    const col=cfg.colors[i],cx=X(i),hw=cfg.hw,id=cfg.id+'-'+c.toLowerCase().replace('/','-');
    seg(g,cfg.id+'-x-tick',cx,cfg.bottom,cx,cfg.bottom+4,'#222',1.2);
    label(g,cfg.id+'-x-tick-label',c,cx+cfg.labelOffset,cfg.labelY,20.5,'middle',true);
    seg(g,id+'-whisker',cx,Y(cfg.hi[i]),cx,Y(cfg.lo[i]),col,1.5);
    const box=mk(g,'rect',{x:cx-hw,y:Y(cfg.q3[i]),width:2*hw,height:Y(cfg.q1[i])-Y(cfg.q3[i]),fill:'#fff',stroke:col,'stroke-width':1.6});
    
    
    seg(g,id+'-median',cx-hw,Y(cfg.med[i]),cx+hw,Y(cfg.med[i]),col,2.1);
    cfg.points[i].forEach(p=>{
      const dot=mk(g,'circle',{cx:cx+p[0]*cfg.dx,cy:Y(p[1]),r:3.3,fill:col});
      
      
    });
    const kx=cfg.keys[i],ky=cfg.keyY;
    seg(g,id+'-legend-whisker',kx,ky-8,kx,ky+8,col,1.3);
    const key=mk(g,'rect',{x:kx-7.5,y:ky-5.5,width:15,height:11,fill:'#fff',stroke:col,'stroke-width':1.3});
    
    
    seg(g,id+'-legend-median',kx-7.5,ky,kx+7.5,ky,col,1.3);
    const kd=mk(g,'circle',{cx:kx,cy:ky,r:2.6,fill:col});
    
    
  });
  cfg.brFrom.forEach((a,i)=>{
    const b=cfg.brTo[i],yy=Y(cfg.brVal[i]);
    const br=mk(g,'path',{d:'M'+X(a)+' '+(yy+cfg.tip)+'V'+yy+'H'+X(b)+'V'+(yy+cfg.tip),fill:'none',stroke:'#4a4a4a','stroke-width':1.5});
    
    
    label(g,cfg.id+'-bracket-label',cfg.brLabels[i],(X(a)+X(b))/2,yy-3,13,'middle',false,.92);
  });
}
drawBoxPanel({name:'panel-c-boxplot',id:'c',y0:1050,k:.57,axisX:512.3,top:874,bottom:1217.3,right:882.7,x0:565,dx:88.3,hw:31.7,labelOffset:3,labelY:1237.5,tip:6,
  cats:cCats,ticks:cTicks,q1:cQ1,med:cMedian,q3:cQ3,lo:cWhiskLow,hi:cWhiskHigh,points:[cPointsCR,cPointsPD,cPointsPR,cPointsSD],
  brFrom:cBracketFrom,brTo:cBracketTo,brVal:cBracketValue,brLabels:cBracketLabels,
  colors:['#d56c60','#8aa838','#5fb5b9','#9b77bc'],keys:[665,712.7,760,807],keyY:840.7});
drawBoxPanel({name:'panel-d-boxplot',id:'d',y0:963,k:.895,axisX:949,top:874,bottom:1217.3,right:1330,x0:1052.7,dx:173.3,hw:61,labelOffset:6.5,labelY:1237.5,tip:9,
  cats:dCats,ticks:dTicks,q1:dQ1,med:dMedian,q3:dQ3,lo:dWhiskLow,hi:dWhiskHigh,points:[dPointsCRPR,dPointsSDPD],
  brFrom:dBracketFrom,brTo:dBracketTo,brVal:dBracketValue,brLabels:dBracketLabels,
  colors:['#d56c60','#62b3b8'],keys:[1131.7,1205.7],keyY:840.7});
drawBoxPanel({name:'panel-e-boxplot',id:'e',y0:1007.7,k:.727,axisX:1394,top:874,bottom:1217.3,right:1762.7,x0:1463.3,dx:115.2,hw:40.7,labelOffset:4,labelY:1237.5,tip:7,
  cats:eCats,ticks:eTicks,q1:eQ1,med:eMedian,q3:eQ3,lo:eWhiskLow,hi:eWhiskHigh,points:[ePointsIC0,ePointsIC1,ePointsIC2],
  brFrom:eBracketFrom,brTo:eBracketTo,brVal:eBracketValue,brLabels:eBracketLabels,
  colors:['#d56c60','#5cad42','#6f90d4'],keys:[1544.3,1593.3,1642],keyY:840.7});
drawBoxPanel({name:'panel-f-boxplot',id:'f',y0:1516.3,k:.7245,axisX:67.3,top:1383.3,bottom:1725.3,right:447.3,x0:138.3,dx:118.85,hw:42,labelOffset:5,labelY:1745,tip:7.5,
  cats:fCats,ticks:fTicks,q1:fQ1,med:fMedian,q3:fQ3,lo:fWhiskLow,hi:fWhiskHigh,points:[fPointsTC0,fPointsTC1,fPointsTC2],
  brFrom:fBracketFrom,brTo:fBracketTo,brVal:fBracketValue,brLabels:fBracketLabels,
  colors:['#d56c60','#5cad42','#6f90d4'],keys:[219,273.3,327.7],keyY:1349});

/* ---------- Panels G, H ---------- */
function drawBarPanel(cfg){
  const g=group(plots,cfg.name);
  const Y=v=>1738.7-v*3.564;
  const X=i=>cfg.x0+i*cfg.dx;
  const n=cfg.cats.length;
  seg(g,cfg.id+'-y-axis',cfg.axisX,1382,cfg.axisX,1739.5,'#222',1.6);
  seg(g,cfg.id+'-x-axis',cfg.axisX,1738.7,cfg.right,1738.7,'#222',1.6);
  barTicks.forEach(v=>{
    seg(g,cfg.id+'-y-tick',cfg.axisX-6,Y(v),cfg.axisX,Y(v),'#222',1.2);
    label(g,cfg.id+'-y-tick-label',String(v),cfg.axisX-7.5,Y(v)+5,15,'end',true,.82,'#5a5048');
  });
  barMinorTicks.forEach(v=>{
    seg(g,cfg.id+'-y-minor-tick',cfg.axisX-3,Y(v),cfg.axisX,Y(v),'#222',1);
  });
  for(let i=0;i<=n;i++){
    const mx=cfg.x0+(i-.5)*cfg.dx;
    seg(g,cfg.id+'-x-minor-tick',mx,1738.7,mx,1742,'#222',1);
  }
  for(let i=0;i<n-1;i++){
    seg(g,cfg.id+'-connector-lower',X(i)+cfg.hw,Y(cfg.lower[i]),X(i+1)-cfg.hw,Y(cfg.lower[i+1]),'#333',1.2);
    seg(g,cfg.id+'-connector-upper',X(i)+cfg.hw,Y(100),X(i+1)-cfg.hw,Y(100),cfg.topLine,1.3);
  }
  cfg.cats.forEach((c,i)=>{
    const id=cfg.id+'-'+c.toLowerCase(),x=X(i)-cfg.hw,w=2*cfg.hw;
    const up=mk(g,'rect',{x:x,y:Y(cfg.lower[i]+cfg.upper[i]),width:w,height:Y(cfg.lower[i])-Y(cfg.lower[i]+cfg.upper[i]),fill:'#a9cd9a',stroke:cfg.upStroke,'stroke-width':1.2});
    
    
    const lo=mk(g,'rect',{x:x,y:Y(cfg.lower[i]),width:w,height:Y(0)-Y(cfg.lower[i]),fill:'#e9c093',stroke:cfg.loStroke,'stroke-width':1.2});
    
    
    seg(g,id+'-bar-divider',x,Y(cfg.lower[i]),x+w,Y(cfg.lower[i]),cfg.upStroke,1.3);
    label(g,id+'-label-upper',cfg.upLabels[i],X(i),Y(cfg.lower[i]+cfg.upper[i]/2)+5.5,16.5,'middle',true,.95,'#222');
    label(g,id+'-label-lower',cfg.loLabels[i],X(i),Y(cfg.lower[i]/2)+5.5,16.5,'middle',true,.95,'#222');
    seg(g,id+'-x-tick',X(i),1738.7,X(i),1745,'#222',1.2);
    label(g,id+'-x-tick-label',c,X(i),1766,20.5,'middle',true,.92);
  });
}
drawBarPanel({name:'panel-g-stacked-bars',id:'g',axisX:687.3,right:1041,x0:775.7,dx:177,hw:53,cats:gCats,lower:gLower,upper:gUpper,upLabels:gUpperLabels,loLabels:gLowerLabels,upStroke:'#444',loStroke:'#777',topLine:'#999'});
drawBarPanel({name:'panel-h-stacked-bars',id:'h',axisX:1345.7,right:1697.7,x0:1389.3,dx:88.1,hw:26.3,cats:hCats,lower:hLower,upper:hUpper,upLabels:hUpperLabels,loLabels:hLowerLabels,upStroke:'#7f9fc8',loStroke:'#dfe7f0',topLine:'#443c38'});
</script>
</body>
</html>
